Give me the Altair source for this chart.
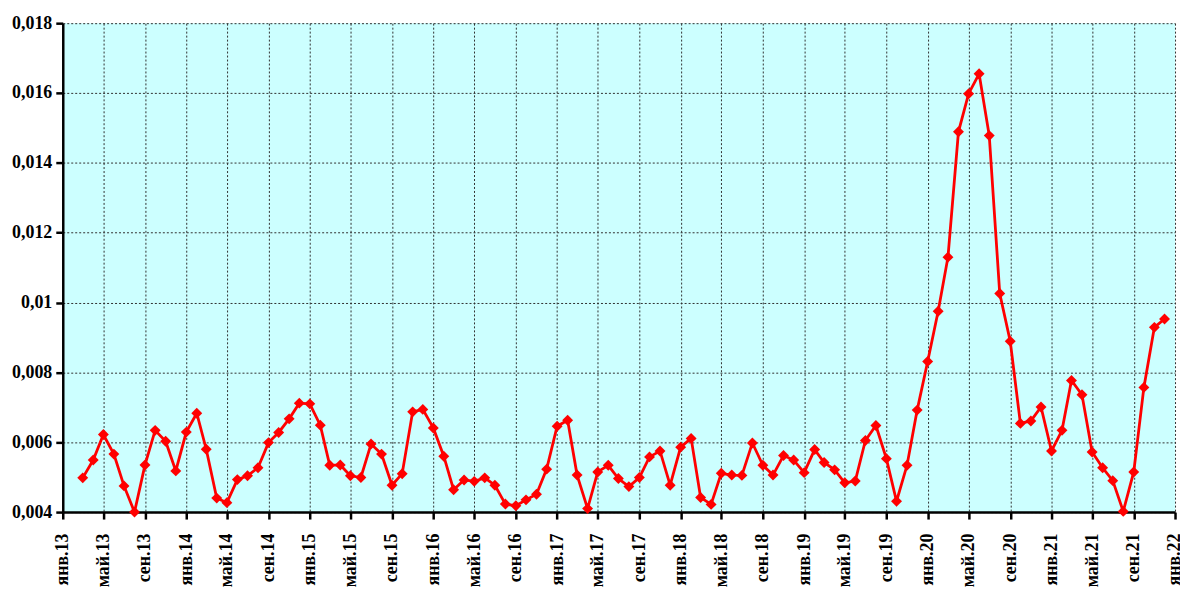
import altair as alt
import pandas as pd

# Monthly values, March 2013 .. December 2021
values_2013 = [0.00498, 0.00549, 0.00622, 0.00566, 0.00475, 0.00400, 0.00535, 0.00634, 0.00603, 0.00518]
values_2014 = [0.00629, 0.00683, 0.00580, 0.00440, 0.00427, 0.00493, 0.00504, 0.00527, 0.00599, 0.00628, 0.00667, 0.00712]
values_2015 = [0.00710, 0.00649, 0.00534, 0.00535, 0.00504, 0.00499, 0.00595, 0.00566, 0.00477, 0.00510, 0.00687, 0.00694]
values_2016 = [0.00641, 0.00560, 0.00464, 0.00492, 0.00488, 0.00498, 0.00477, 0.00423, 0.00418, 0.00435, 0.00451, 0.00523]
values_2017 = [0.00646, 0.00663, 0.00506, 0.00410, 0.00515, 0.00534, 0.00496, 0.00473, 0.00499, 0.00558, 0.00575, 0.00477]
values_2018 = [0.00586, 0.00611, 0.00442, 0.00422, 0.00511, 0.00506, 0.00505, 0.00598, 0.00534, 0.00506, 0.00562, 0.00549]
values_2019 = [0.00513, 0.00579, 0.00542, 0.00521, 0.00484, 0.00489, 0.00605, 0.00648, 0.00553, 0.00431, 0.00534, 0.00692]
values_2020 = [0.00831, 0.00975, 0.01130, 0.01489, 0.01598, 0.01655, 0.01478, 0.01026, 0.00889, 0.00654, 0.00661, 0.00701]
values_2021 = [0.00575, 0.00634, 0.00777, 0.00736, 0.00572, 0.00527, 0.00490, 0.00402, 0.00515, 0.00757, 0.00929, 0.00953]

values = (values_2013 + values_2014 + values_2015 + values_2016 + values_2017
          + values_2018 + values_2019 + values_2020 + values_2021)
months = pd.date_range("2013-03-01", periods=len(values), freq="MS").strftime("%Y-%m-%d").tolist()

y_ticks = [0.004, 0.006, 0.008, 0.010, 0.012, 0.014, 0.016, 0.018]
x_tick_months = pd.date_range("2013-01-01", "2022-01-01", freq="4MS")
x_ticks = [alt.DateTime(year=int(d.year), month=int(d.month), date=1, utc=True) for d in x_tick_months]
month_names = ["янв", "фев", "мар", "апр", "май", "июн", "июл", "авг", "сен", "окт", "ноя", "дек"]

df = pd.DataFrame({"date": months, "value": values})

label_expr = ("[" + ",".join("'%s'" % m for m in month_names) + "][utcmonth(datum.value)]"
              " + '.' + utcFormat(datum.value, '%y')")

chart = alt.Chart(df).mark_line(
    color="#FF0000",
    strokeWidth=2.8,
    point=alt.OverlayMarkDef(shape="diamond", size=120, filled=True, color="#FF0000", opacity=1),
).encode(
    x=alt.X(
        "date:T",
        scale=alt.Scale(
            type="utc",
            domain=[alt.DateTime(year=2013, month=1, date=1, utc=True),
                    alt.DateTime(year=2022, month=1, date=1, utc=True)],
        ),
        axis=alt.Axis(
            title=None,
            values=x_ticks,
            labelExpr=label_expr,
            labelAngle=270,
            labelPadding=14,
            tickSize=7,
        ),
    ),
    y=alt.Y(
        "value:Q",
        scale=alt.Scale(domain=[0.004, 0.018], nice=False, zero=False),
        axis=alt.Axis(
            title=None,
            values=y_ticks,
            labelExpr="replace(format(datum.value, '.3~f'), '.', ',')",
            labelPadding=4,
            tickSize=7,
        ),
    ),
).properties(
    width=1117,
    height=491,
    autosize=alt.AutoSizeParams(type="none"),
    padding={"left": 55, "top": 14, "right": 5, "bottom": 76},
).configure_view(
    fill="#CCFFFF",
    strokeWidth=0,
).configure_axis(
    grid=True,
    gridColor="#303030",
    gridDash=[2, 2],
    gridWidth=1,
    gridOpacity=1,
    domainColor="#000000",
    domainWidth=2.5,
    tickColor="#000000",
    tickWidth=2.5,
    labelFont="Liberation Serif",
    labelFontWeight="bold",
    labelFontSize=18,
    labelColor="#000000",
    labelOverlap=False,
    labelFlush=False,
)

chart.save("out.html", embed_options={"renderer": "svg", "actions": False})
